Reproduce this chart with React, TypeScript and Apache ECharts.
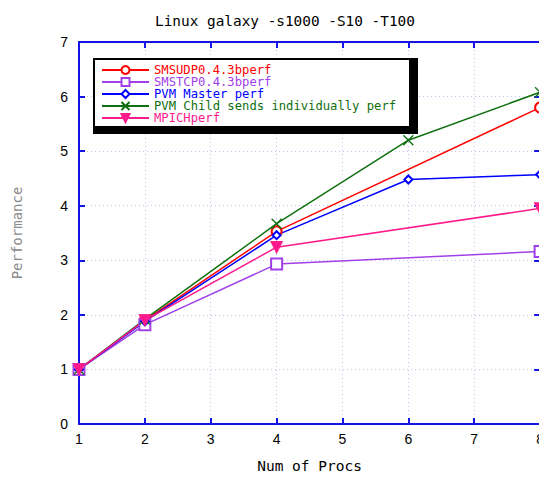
import React, { useEffect, useRef } from "react";
import * as echarts from "echarts";

const titleText = "Linux galaxy -s1000 -S10 -T100";
const xName = "Num of Procs";
const yName = "Performance";

const procsAll = [1, 2, 4, 6, 8];
const procsNo6 = [1, 2, 4, 8];

const seriesNames = [
  "SMSUDP0.4.3bperf",
  "SMSTCP0.4.3bperf",
  "PVM Master perf",
  "PVM Child sends individually perf",
  "MPICHperf",
];
const smsudp = [1.0, 1.9, 3.53, 5.8];
const smstcp = [1.0, 1.82, 2.93, 3.16];
const pvmMaster = [1.0, 1.88, 3.46, 4.48, 4.57];
const pvmChild = [1.0, 1.92, 3.67, 5.2, 6.08];
const mpich = [1.0, 1.9, 3.24, 3.95];

const colors = ["#ff0000", "#a040e8", "#0000ff", "#107010", "#ff1a8c"];

const pair = (xs: number[], ys: number[]) => xs.map((x, i) => [x, ys[i]]);

export default function App() {
  const ref = useRef<HTMLDivElement>(null);
  useEffect(() => {
    if (!ref.current) return;
    const chart = echarts.init(ref.current, undefined, { renderer: "svg" });
    const mono = "DejaVu Sans Mono";
    const axisBlue = "#1414e6";
    const grid = { left: 79, right: 5, top: 42, bottom: 53 };
    const common = {
      type: "value" as const,
      interval: 1,
      axisLine: { show: true, onZero: false, lineStyle: { color: axisBlue, width: 2 } },
      axisTick: { show: true, inside: true, length: 6, lineStyle: { color: axisBlue, width: 2 } },
    };
    const dataSets = [
      pair(procsNo6, smsudp),
      pair(procsNo6, smstcp),
      pair(procsAll, pvmMaster),
      pair(procsAll, pvmChild),
      pair(procsNo6, mpich),
    ];
    const symbols = [
      { symbol: "emptyCircle", symbolSize: 10 },
      { symbol: "emptyRect", symbolSize: 11 },
      { symbol: "emptyDiamond", symbolSize: 8 },
      { symbol: "path://M0,0L10,10M10,0L0,10", symbolSize: 10 },
      { symbol: "triangle", symbolSize: 11, symbolRotate: 180 },
    ];
    chart.setOption({
      animation: false,
      title: {
        text: titleText,
        left: 150,
        top: 9,
        textStyle: { fontFamily: mono, fontSize: 14.4, fontWeight: "normal", color: "#000" },
      },
      grid,
      xAxis: [
        {
          ...common,
          min: 1,
          max: 8,
          position: "bottom",
          name: xName,
          nameLocation: "middle",
          nameGap: 34,
          nameTextStyle: { fontFamily: mono, fontSize: 14.5, color: "#000" },
          axisLabel: { fontFamily: "Liberation Sans", fontSize: 14, color: "#000", margin: 8 },
          splitLine: { show: true, lineStyle: { color: "#c4c4f2", width: 1, type: [1, 3] } },
        },
        {
          ...common,
          min: 1,
          max: 8,
          position: "top",
          axisLabel: { show: false },
          splitLine: { show: false },
        },
      ],
      yAxis: [
        {
          ...common,
          min: 0,
          max: 7,
          position: "left",
          name: yName,
          nameLocation: "middle",
          nameGap: 55,
          nameTextStyle: { fontFamily: mono, fontSize: 14, color: "#8c8c8c" },
          axisLabel: { fontFamily: "Liberation Sans", fontSize: 14, color: "#000", margin: 11 },
          splitLine: { show: true, lineStyle: { color: "#c4c4f2", width: 1, type: [1, 3] } },
        },
        {
          ...common,
          min: 0,
          max: 7,
          position: "right",
          axisLabel: { show: false },
          splitLine: { show: false },
        },
      ],
      graphic: [
        { type: "rect", z: 10, shape: { x: 93, y: 58, width: 325, height: 76 }, style: { fill: "#000" } },
        { type: "rect", z: 11, shape: { x: 95, y: 60, width: 314, height: 66 }, style: { fill: "#fff" } },
      ],
      legend: {
        z: 20,
        orient: "vertical",
        left: 101,
        top: 64,
        itemWidth: 47,
        itemHeight: 10,
        itemGap: 0,
        padding: 0,
        data: seriesNames.map((n, i) => ({
          name: n,
          textStyle: { color: colors[i] },
        })),
        textStyle: { fontFamily: mono, fontSize: 12.2, lineHeight: 12 },
      },
      series: seriesNames.map((n, i) => ({
        name: n,
        type: "line",
        data: dataSets[i],
        ...symbols[i],
        showAllSymbol: true,
        color: colors[i],
        lineStyle: { color: colors[i], width: 1.5 },
        itemStyle: { color: colors[i], borderColor: colors[i], borderWidth: 1.3 },
        z: 3,
      })),
    });
    return () => chart.dispose();
  }, []);
  return <div ref={ref} style={{ width: 547, height: 478, marginLeft: -8, marginTop: -8 }} />;
}
